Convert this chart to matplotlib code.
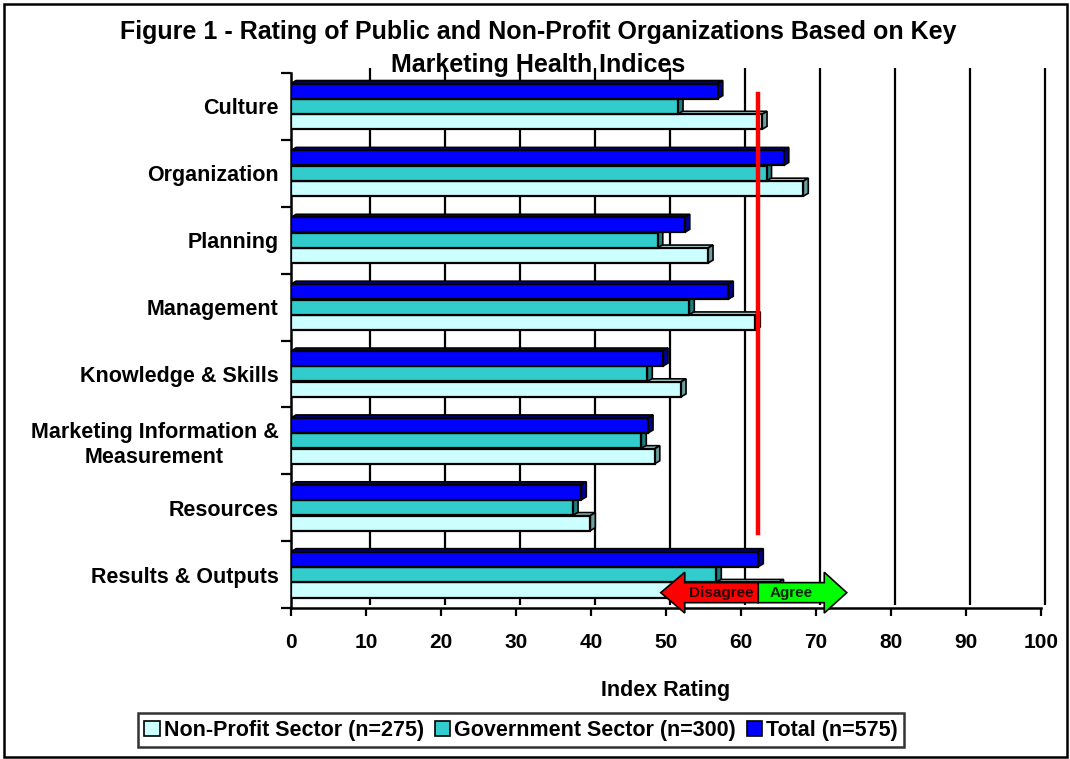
import matplotlib
matplotlib.use("Agg")
import matplotlib.pyplot as plt
from matplotlib.patches import Polygon, Rectangle, FancyArrow
from matplotlib.transforms import ScaledTranslation

# data
categories = ["Culture", "Organization", "Planning", "Management",
              "Knowledge & Skills", "Marketing Information &\nMeasurement",
              "Resources", "Results & Outputs"]
non_profit = [62.8, 68.3, 55.6, 61.9, 52.0, 48.5, 39.9, 65.0]
government = [51.6, 63.4, 48.9, 53.1, 47.5, 46.7, 37.6, 56.7]
total = [56.9, 65.7, 52.5, 58.3, 49.6, 47.6, 38.7, 62.3]
series_names = ["Non-Profit Sector (n=275)", "Government Sector (n=300)", "Total (n=575)"]
threshold = 62.3
disagree_end = 49.3
agree_end = 74.1

plt.rcParams['font.family'] = ['Liberation Sans', 'DejaVu Sans']
plt.rcParams['font.weight'] = 'bold'

fig = plt.figure(figsize=(10.7, 7.59), dpi=100)
ax = fig.add_axes([0.2720, 0.1989, 0.7009, 0.7049])
ax.set_xlim(0, 100)
ax.set_ylim(7.5, -0.5)

# back wall gridlines, shifted a bit for the 3D look
shift = ax.transData + ScaledTranslation(4/100, 0, fig.dpi_scale_trans)
ax.vlines(range(10, 101, 10), 7.45, -0.58, colors='black', lw=1.6, transform=shift,
          zorder=1, clip_on=False)

dx, dy = 0.67, 0.045   # depth of the bars
h = 0.225
styles = [  # (values, offset, face, top, side)
    (non_profit, 0.23, '#CCFFFF', '#A8D8D8', '#6E9E9E'),
    (government, 0.0, '#33CCCC', '#2AA8A8', '#1E7F7F'),
    (total, -0.23, '#0000FF', '#000080', '#000099'),
]
for vals, off, face, top, side in styles:
    for i, v in enumerate(vals):
        y0 = i + off - h/2
        y1 = i + off + h/2
        ax.add_patch(Polygon([(0, y0), (v, y0), (v+dx, y0-dy), (dx, y0-dy)], closed=True,
                             fc=top, ec='black', lw=1.2, zorder=3))
        ax.add_patch(Polygon([(v, y0), (v, y1), (v+dx, y1-dy), (v+dx, y0-dy)], closed=True,
                             fc=side, ec='black', lw=1.2, zorder=3))
        ax.add_patch(Rectangle((0, y0), v, h, fc=face, ec='black', lw=1.6, zorder=3))

# threshold line
ax.plot([threshold, threshold], [-0.19, 6.38], color='#FF0000', lw=3.2, zorder=5)

# agree / disagree arrows
ya = 7.27
ax.add_patch(FancyArrow(threshold, ya, disagree_end - threshold, 0, width=0.30, head_width=0.61,
                        head_length=3.2, length_includes_head=True, fc='#FF0000', ec='black',
                        lw=1.2, zorder=6, clip_on=False))
ax.add_patch(FancyArrow(threshold, ya, agree_end - threshold, 0, width=0.30, head_width=0.61,
                        head_length=3.0, length_includes_head=True, fc='#00FF00', ec='black',
                        lw=1.2, zorder=6, clip_on=False))
ax.text((disagree_end + 3 + threshold) / 2, ya, "Disagree", ha='center', va='center',
        fontsize=11, color='#220000', zorder=7)
ax.text((threshold + agree_end - 3) / 2, ya, "Agree", ha='center', va='center',
        fontsize=11, color='#002200', zorder=7)

# axes
ax.set_yticks(range(len(categories)))
ax.set_yticklabels(categories, fontsize=15.5)
for lab in ax.get_yticklabels():
    lab.set_multialignment('center')
ax.set_yticks([i - 0.5 for i in range(len(categories) + 1)], minor=True)
ax.tick_params(axis='y', which='major', length=0, pad=9)
ax.tick_params(axis='y', which='minor', length=7, width=1.6, color='black')
ax.set_xticks(range(0, 101, 10))
ax.tick_params(axis='x', length=6, width=1.6, labelsize=15, pad=12)
ax.set_xlabel("Index Rating", fontsize=15.5, fontweight='bold', labelpad=20)
for s in ['top', 'right']:
    ax.spines[s].set_visible(False)
ax.spines['bottom'].set_linewidth(1.8)
ax.spines['left'].set_linewidth(1.8)

fig.text(0.503, 1 - 32/759, "Figure 1 - Rating of Public and Non-Profit Organizations Based on Key",
         ha='center', va='center', fontsize=18)
fig.text(0.503, 1 - 65/759, "Marketing Health Indices", ha='center', va='center', fontsize=18)

handles = [Rectangle((0, 0), 1, 1, fc=c, ec='black', lw=1.2) for c in ['#CCFFFF', '#33CCCC', '#0000FF']]
leg = fig.legend(handles, series_names, loc='center', bbox_to_anchor=(0.487, 0.038), ncol=3,
                 frameon=True, fancybox=False, edgecolor='black', fontsize=15.5,
                 handlelength=0.7, handleheight=0.7, handletextpad=0.2, columnspacing=0.5,
                 borderpad=0.3, borderaxespad=0)
leg.get_frame().set_linewidth(1.8)

fig.patches.append(Rectangle((0.004, 0.003), 0.993, 0.992, transform=fig.transFigure,
                             fill=False, ec='black', lw=1.8))
fig.savefig("out.png", dpi=100)
